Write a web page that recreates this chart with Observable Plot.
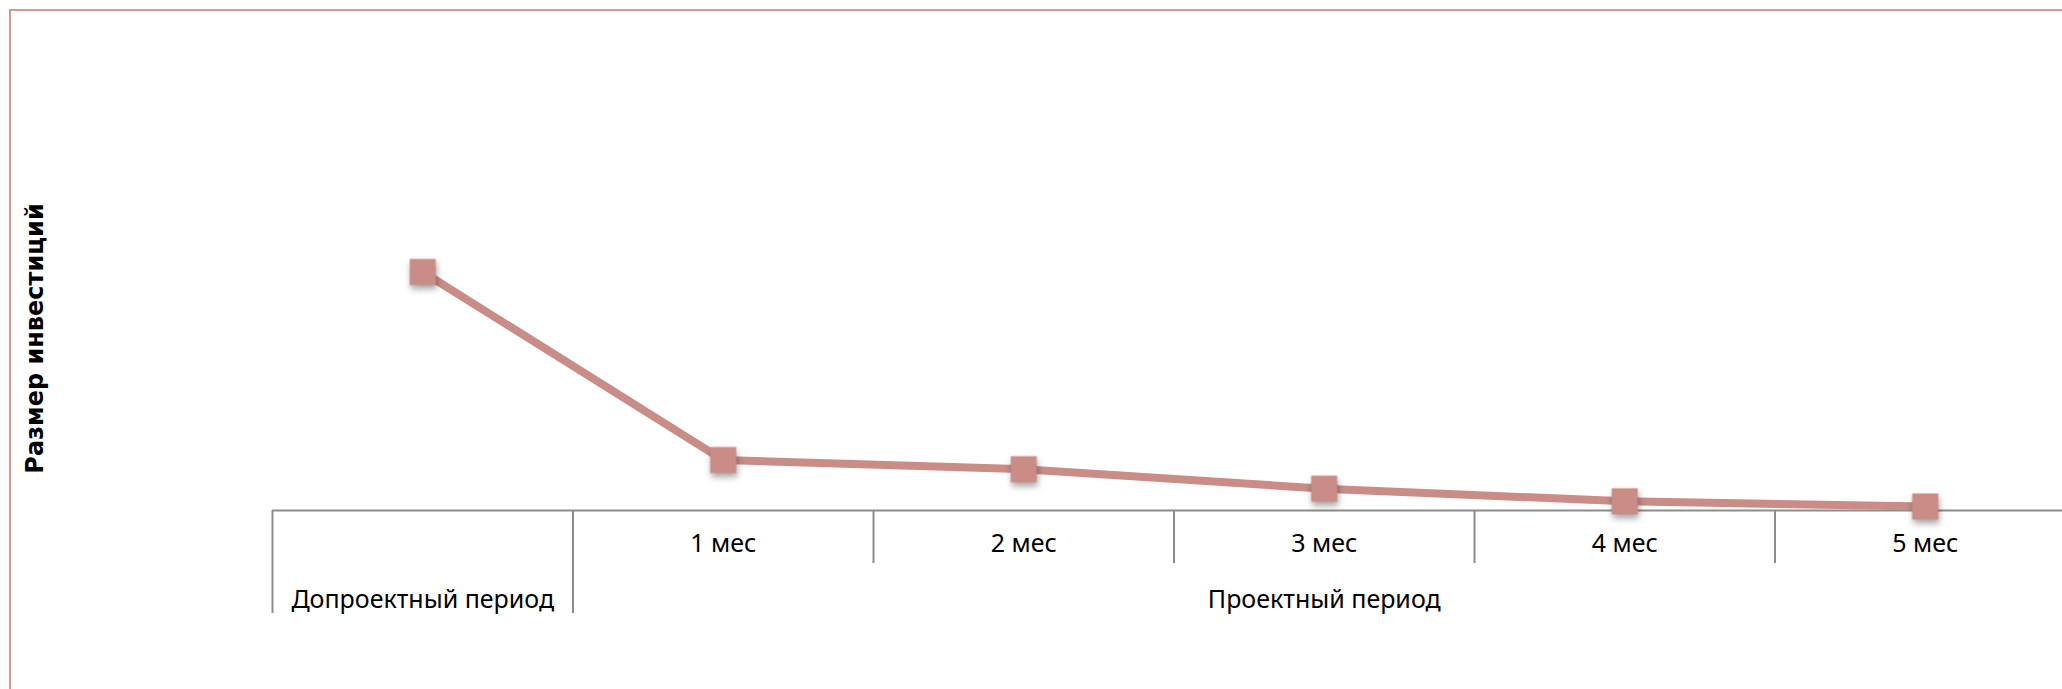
<!DOCTYPE html>
<html>
<head>
<meta charset="utf-8">
<script src="https://cdn.jsdelivr.net/npm/d3@7"></script>
<script src="https://cdn.jsdelivr.net/npm/@observablehq/plot@0.6"></script>
<style>
  html, body { margin: 0; padding: 0; background: #fff; overflow: hidden; }
  #wrap { position: relative; width: 2062px; height: 689px; overflow: hidden; }
  #frame { position: absolute; left: 9px; top: 9px; width: 2200px; height: 800px;
           border-left: 2px solid #d39893; border-top: 2px solid #d39893; box-sizing: border-box; }
  #chart { position: absolute; left: 0; top: 0; }
</style>
</head>
<body>
<div id="wrap"><div id="frame"></div><div id="chart"></div></div>
<script>
// ---- data ----
const categories = ["Допроектный период", "1 мес", "2 мес", "3 мес", "4 мес", "5 мес"];
const tickLabels = ["", "1 мес", "2 мес", "3 мес", "4 мес", "5 мес"];
const groups = ["Допроектный период", "Проектный период"];
const groupOf = [0, 1, 1, 1, 1, 1];
const values = [208, 44, 36, 19, 8, 3.5];
const yTitle = "Размер инвестиций";

// ---- derived tables ----
const data = categories.map((c, i) => ({i, c, v: values[i]}));
const groupSpans = groups.map((g, gi) => {
  const idx = groupOf.map((k, i) => k === gi ? i : -1).filter(i => i >= 0);
  const start = d3.min(idx), end = d3.max(idx) + 1;
  return {g, start, end, mid: (start + end) / 2};
});
const groupBounds = Array.from(new Set(groupSpans.flatMap(s => [s.start, s.end])));
const innerBounds = d3.range(1, categories.length).filter(b => !groupBounds.includes(b));
const centers = categories.map((c, i) => i + 0.5);

const lineColor = "#c98c86";
const axisColor = "#8c8c8c";
const font = "'Noto Sans', sans-serif";

const chart = Plot.plot({
  width: 2062,
  height: 689,
  marginTop: 166,
  marginBottom: 179,
  marginLeft: 272,
  marginRight: 0,
  style: {fontFamily: font, background: "transparent"},
  x: {type: "linear", domain: [0, categories.length], range: [272, 2075], axis: null},
  y: {domain: [0, 300], axis: null},
  marks: [
    Plot.ruleY([0], {stroke: axisColor, strokeWidth: 2}),
    Plot.axisX(innerBounds, {tickSize: 53, tickFormat: () => "", stroke: axisColor, strokeWidth: 2, label: null}),
    Plot.axisX(groupBounds, {tickSize: 103, tickFormat: () => "", stroke: axisColor, strokeWidth: 2, label: null}),
    Plot.axisX(centers, {tickSize: 0, tickPadding: 24, tickFormat: (d) => tickLabels[Math.floor(d)],
                         fontSize: 25, fill: "#000", label: null}),
    Plot.text(groupSpans, {x: "mid", y: () => 0, text: "g", dy: 89, fontSize: 25, fill: "#000",
                           lineAnchor: "middle", textAnchor: "middle"}),
    Plot.text([yTitle], {frameAnchor: "left", textAnchor: "middle", lineAnchor: "middle", dx: -237, rotate: -90,
                         fontSize: 24, fontWeight: "bold", fontFamily: "'DejaVu Sans', sans-serif", fill: "#000"}),
    Plot.lineY(data, {x: d => d.i + 0.5, y: "v", stroke: lineColor, strokeWidth: 8}),
    Plot.dot(data, {x: d => d.i + 0.5, y: "v", symbol: "square", r: 14.7, fill: lineColor, stroke: "none"})
  ]
});
d3.select(chart).selectAll("g[aria-label=dot]").style("filter", "drop-shadow(1px 4px 3px rgba(0,0,0,0.35))");
document.getElementById("chart").appendChild(chart);
</script>
</body>
</html>
